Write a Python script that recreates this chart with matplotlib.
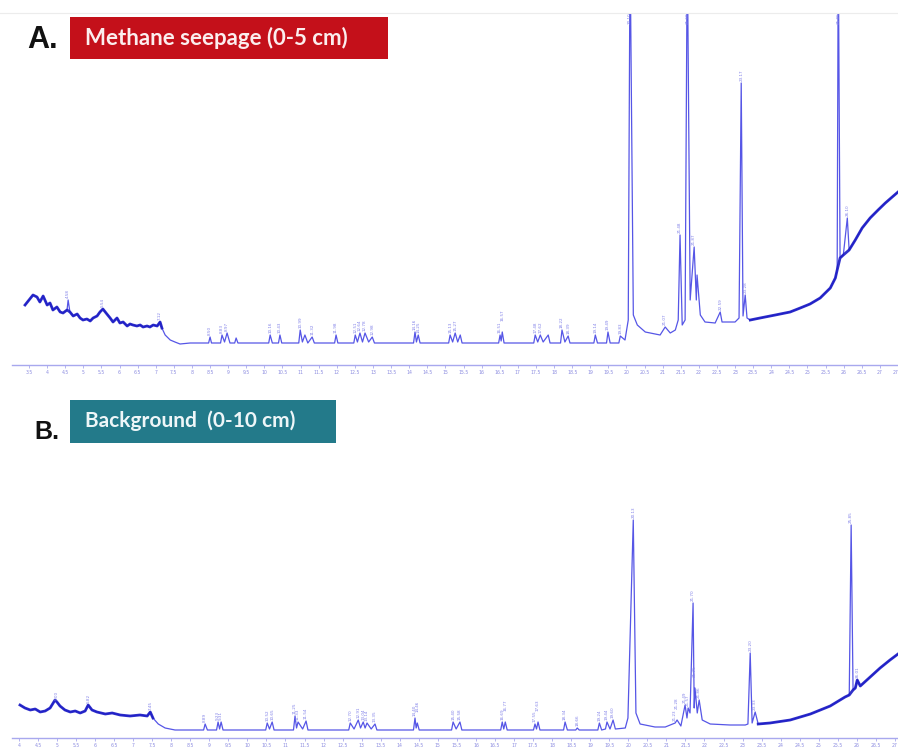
import numpy as np
import matplotlib
matplotlib.use("Agg")
import matplotlib.pyplot as plt
from matplotlib.patches import Rectangle

# --- run A: methane seepage core, 0-5 cm (retention time in min, detector signal) ---
rt_a = [3.39, 3.61, 3.72, 3.80, 3.89, 4.00, 4.08, 4.16, 4.27, 4.36, 4.44, 4.55, 4.58, 4.63,
        4.72, 4.83, 4.91, 4.99, 5.10, 5.19, 5.27, 5.38, 5.46, 5.54, 5.65, 5.74, 5.82, 5.93,
        6.01, 6.10, 6.21, 6.29, 6.37, 6.48, 6.57, 6.65, 6.76, 6.84, 6.93, 7.04, 7.12, 7.17,
        7.26, 7.40, 7.53, 7.67, 7.95,
        8.46, 8.50, 8.54, 8.79, 8.83, 8.90, 8.97, 9.05, 9.18, 9.22, 9.27, 9.60,
        10.12, 10.16, 10.22, 10.39, 10.43, 10.48, 10.95, 10.99, 11.05, 11.12, 11.20, 11.32, 11.38,
        11.94, 11.98, 12.03, 12.47, 12.51, 12.57, 12.64, 12.71, 12.78, 12.88, 12.98, 13.04, 13.47,
        14.12, 14.16, 14.20, 14.25, 14.30, 15.09, 15.13, 15.20, 15.27, 15.34, 15.41, 15.46,
        16.47, 16.51, 16.54, 16.57, 16.62, 17.44, 17.48, 17.55, 17.62, 17.70, 17.84, 17.89,
        18.18, 18.22, 18.30, 18.39, 18.44, 19.10, 19.14, 19.20, 19.45, 19.49, 19.55, 19.79, 19.83,
        19.96, 20.05, 20.10, 20.19, 20.30, 20.52, 20.93, 21.07, 21.21, 21.35, 21.43, 21.48, 21.54,
        21.62, 21.68, 21.76, 21.87, 21.93, 21.95, 22.04, 22.17, 22.45, 22.59, 22.64, 23.00, 23.11,
        23.17, 23.22, 23.28, 23.33, 23.42, 23.69, 24.11, 24.52, 24.80, 25.07, 25.35, 25.63, 25.77,
        25.82, 25.85, 25.90, 25.99, 26.10, 26.15, 26.32, 26.51, 26.73, 26.95, 27.15, 27.34, 27.50]
sig_a = [60, 70, 68, 63, 69, 60, 62, 55, 58, 53, 52, 55, 65, 53,
         49, 51, 47, 45, 46, 44, 47, 49, 53, 56, 51, 47, 43, 47,
         42, 43, 39, 41, 40, 39, 40, 38, 39, 38, 40, 39, 43, 37,
         30, 25, 23, 21, 22,
         22, 28, 22, 22, 30, 23, 32, 22, 22, 27, 22, 22,
         22, 30, 22, 22, 30, 22, 22, 35, 23, 30, 22, 28, 22,
         22, 30, 22, 22, 30, 23, 32, 23, 32, 23, 28, 22, 22,
         22, 33, 23, 30, 22, 22, 30, 23, 32, 23, 30, 22,
         22, 30, 24, 33, 22, 22, 30, 23, 30, 23, 30, 22,
         22, 35, 23, 29, 22, 22, 30, 22, 22, 33, 22, 22, 29,
         25, 45, 420, 50, 40, 33, 30, 38, 32, 35, 45, 130, 40,
         45, 420, 65, 118, 65, 90, 50, 43, 42, 53, 43, 43, 47,
         282, 49, 70, 47, 45, 47, 50, 53, 57, 61, 67, 77, 87,
         95, 420, 107, 110, 147, 115, 125, 137, 147, 155, 162, 168, 173]
picks_a = [4.58, 5.54, 7.12, 8.50, 8.83, 8.97, 10.16, 10.43, 10.99, 11.32, 11.98, 12.51,
           12.64, 12.78, 12.98, 14.16, 14.25, 15.13, 15.27, 16.51, 16.57, 17.48, 17.62,
           18.22, 18.39, 19.14, 19.49, 19.83, 20.10, 21.07, 21.48, 21.68, 21.87, 22.59,
           23.17, 23.28, 25.85, 26.10]
ticks_a = np.arange(3.5, 27.51, 0.5)

# --- run B: background core, 0-10 cm ---
rt_b = [4.03, 4.16, 4.30, 4.43, 4.56, 4.69, 4.82, 4.95, 5.00, 5.08, 5.21, 5.35, 5.48, 5.61,
        5.74, 5.82, 5.92, 6.05, 6.27, 6.45, 6.66, 6.92, 7.18, 7.37, 7.45, 7.52, 7.66, 7.84,
        8.10, 8.49,
        8.85, 8.89, 8.95, 9.19, 9.23, 9.27, 9.31, 9.36, 9.81,
        10.48, 10.52, 10.58, 10.65, 10.70, 10.99, 11.21, 11.25, 11.29, 11.33, 11.45, 11.54, 11.59, 12.04,
        12.66, 12.70, 12.80, 12.91, 12.97, 13.04, 13.09, 13.14, 13.25, 13.35, 13.40, 13.88,
        14.36, 14.40, 14.43, 14.46, 14.51, 14.93, 15.36, 15.40, 15.48, 15.58, 15.63, 16.11,
        16.65, 16.69, 16.73, 16.77, 16.82, 17.16, 17.51, 17.55, 17.59, 17.63, 17.68, 18.08,
        18.30, 18.34, 18.40, 18.62, 18.66, 18.71, 19.00, 19.20, 19.24, 19.30, 19.40, 19.44,
        19.52, 19.60, 19.66, 19.92, 19.99, 20.13, 20.20, 20.31, 20.70, 20.97, 21.23, 21.28,
        21.38, 21.49, 21.54, 21.57, 21.62, 21.70, 21.73, 21.75, 21.81, 21.86, 21.94, 22.15,
        22.67, 23.07, 23.14, 23.20, 23.25, 23.33, 23.41, 23.72, 24.25, 24.78, 25.30, 25.69,
        25.80, 25.85, 25.90, 25.96, 26.01, 26.09, 26.35, 26.61, 26.87, 27.08]
sig_b = [33, 30, 28, 29, 26, 27, 30, 38, 36, 32, 28, 26, 27, 25,
         27, 33, 28, 26, 24, 25, 23, 22, 23, 22, 26, 20, 14, 10,
         8, 8,
         8, 14, 8, 8, 16, 9, 16, 8, 8,
         8, 15, 9, 16, 8, 8, 8, 22, 10, 16, 9, 17, 8, 8,
         8, 15, 9, 18, 10, 16, 10, 15, 9, 14, 8, 8,
         8, 20, 10, 15, 8, 8, 8, 16, 9, 16, 8, 8,
         8, 16, 9, 16, 8, 8, 8, 14, 9, 16, 8, 8,
         8, 16, 8, 8, 10, 8, 8, 8, 15, 8, 9, 16,
         9, 18, 9, 10, 20, 218, 25, 14, 11, 11, 15, 18,
         12, 33, 20, 30, 25, 135, 30, 50, 25, 38, 18, 14,
         13, 13, 14, 85, 15, 26, 14, 15, 18, 24, 32, 41,
         43, 213, 48, 50, 58, 52, 61, 70, 78, 84]
picks_b = [5.00, 5.82, 7.45, 8.89, 9.23, 9.31, 10.52, 10.65, 11.25, 11.33, 11.54, 12.70,
           12.91, 13.04, 13.14, 13.35, 14.40, 14.46, 15.40, 15.58, 16.69, 16.77, 17.55,
           17.63, 18.34, 18.66, 19.24, 19.44, 19.60, 20.13, 21.23, 21.28, 21.49, 21.57,
           21.70, 21.75, 21.86, 23.20, 23.33, 25.85, 26.01]
ticks_b = np.arange(4.0, 27.01, 0.5)

trace_col = "#3838e2"
noise_col = "#1a1ac4"
pick_col = "#8080e8"
axis_col = "#a8a8ee"

W, H = 898, 747
fig = plt.figure(figsize=(W / 100, H / 100), dpi=100)


def add_run(top_px, base_px, xlim, ymax):
    ax = fig.add_axes([12 / W, (H - base_px) / H, 886 / W, (base_px - top_px) / H])
    ax.set_xlim(*xlim)
    ax.set_ylim(0, ymax)
    for s in ("top", "left", "right"):
        ax.spines[s].set_visible(False)
    ax.spines["bottom"].set_color(axis_col)
    ax.spines["bottom"].set_linewidth(1.0)
    ax.set_yticks([])
    ax.patch.set_alpha(0)
    return ax


def draw_run(ax, rt, sig, picks, ticks, noisy):
    rt = np.asarray(rt)
    sig = np.asarray(sig, dtype=float)
    ax.plot(rt, sig, color=trace_col, lw=0.9, alpha=0.85)
    # the noisy baseline stretches look heavier; peaks stay thin
    tall = np.isin(rt.round(2), np.round(picks, 2)) & (sig > 60)
    for lo, hi in noisy:
        m = (rt >= lo) & (rt <= hi) & ~tall
        ax.plot(rt[m], sig[m], color=noise_col, lw=2.0, alpha=0.9, solid_joinstyle="round")
    ymax = ax.get_ylim()[1]
    apex = dict(zip(rt.round(2), sig))
    prev = None
    lift = 0
    for p in picks:
        y = apex[round(p, 2)]
        # stack labels of neighbouring picks so they do not sit on each other
        lift = lift + 9 if prev is not None and p - prev < 0.08 else 0
        prev = p
        if y > ymax - 12:
            ax.text(p, ymax + 1, f"{p:.2f}", rotation=90, fontsize=3, color=pick_col,
                    ha="center", va="top", clip_on=False)
        else:
            ax.text(p, y + 2 + lift, f"{p:.2f}", rotation=90, fontsize=3, color=pick_col,
                    ha="center", va="bottom")
    ax.set_xticks(ticks)
    ax.set_xticklabels([f"{t:g}" for t in ticks])
    ax.tick_params(axis="x", length=2, width=0.6, color=axis_col, labelcolor="#8c8ce0",
                   labelsize=3.3, pad=1.5)


ax_a = add_run(13, 365, (3.03, 27.5), 352)
draw_run(ax_a, rt_a, sig_a, picks_a, ticks_a, [(3.3, 7.2), (23.4, 27.6)])

ax_b = add_run(460, 738, (3.82, 27.08), 278)
draw_run(ax_b, rt_b, sig_b, picks_b, ticks_b, [(4.0, 7.6), (23.4, 27.2)])

# faint frame line along the top edge
fig.add_artist(plt.Line2D([0, 1], [1 - 13 / H, 1 - 13 / H], color="#ececec", lw=0.8))


def tag_box(x0, y0, x1, y1, color):
    fig.add_artist(Rectangle((x0 / W, 1 - y1 / H), (x1 - x0) / W, (y1 - y0) / H,
                             transform=fig.transFigure, fc=color, ec="none"))


# panel tags
fig.text(27 / W, 1 - 40 / H, "A.", fontsize=22, fontweight="bold", color="#111111",
         va="center", ha="left", family="Liberation Sans")
tag_box(70, 17, 388, 59, "#c4101a")
fig.text(85 / W, 1 - 38 / H, "Methane seepage (0-5 cm)", fontsize=16, fontweight="bold",
         color="#fbeeee", va="center", ha="left", family="Lato")

fig.text(34 / W, 1 - 432 / H, "B.", fontsize=18, fontweight="bold", color="#111111",
         va="center", ha="left", family="Liberation Sans")
tag_box(70, 400, 336, 443, "#237a8a")
fig.text(85 / W, 1 - 421 / H, "Background  (0-10 cm)", fontsize=15, fontweight="bold",
         color="#eef6f8", va="center", ha="left", family="Lato")

fig.savefig("out.png", dpi=100)
